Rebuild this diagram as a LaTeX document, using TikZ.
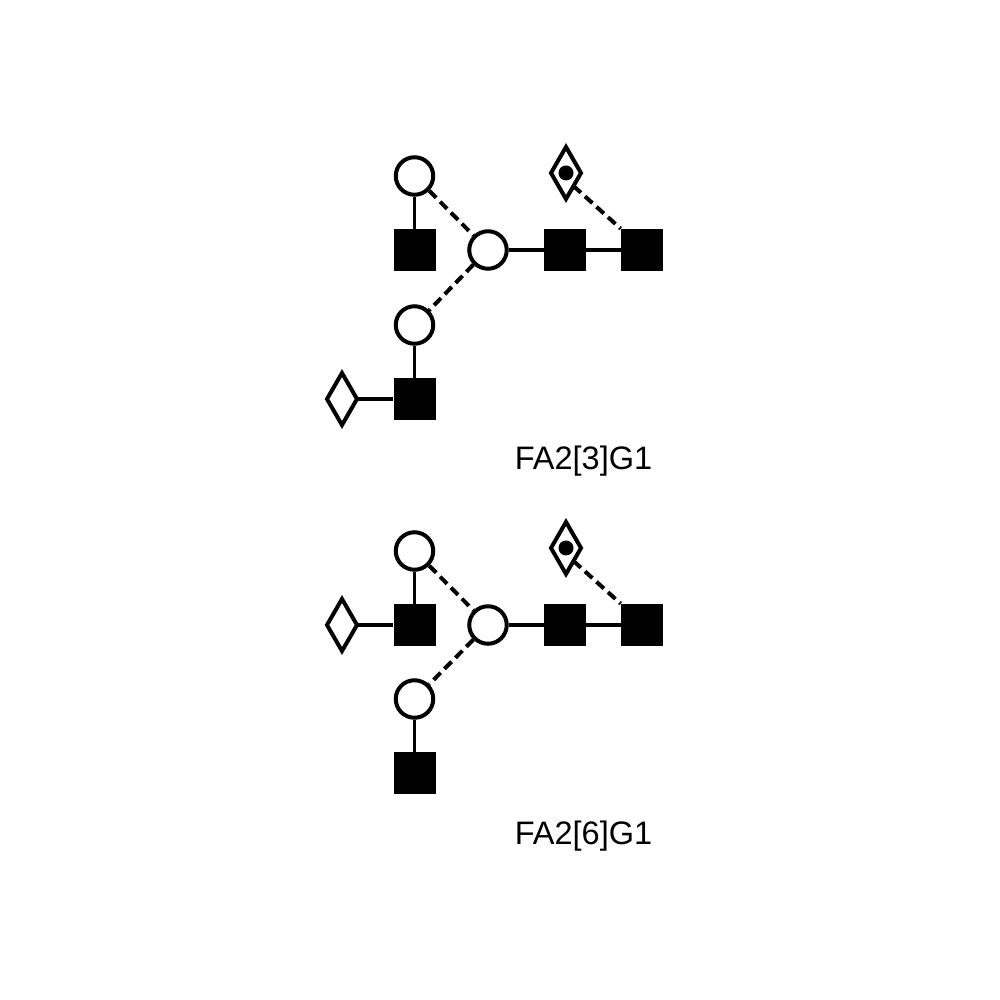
\documentclass[tikz,border=0pt]{standalone}
\usepackage{fontspec}
\setmainfont{Liberation Sans}
\usetikzlibrary{shapes.geometric,positioning}

\tikzset{
  glcnac/.style={draw=none,fill=black,rectangle,minimum size=0.84cm,inner sep=0pt},
  hexose/.style={draw,circle,line width=0.08cm,fill=white,minimum size=0.75cm,inner sep=0pt},
  sugar/.style={draw,diamond,line width=0.08cm,fill=white,minimum width=0.6cm,minimum height=1.04cm,inner sep=0pt,outer sep=0pt},
  spot/.style={fill=black,circle,minimum size=0.3cm,inner sep=0pt},
  solidlink/.style={line width=0.075cm},
  dashlink/.style={line width=0.08cm,dash pattern=on 0.2cm off 0.11cm},
  caption/.style={font=\fontsize{18.5}{22}\selectfont,inner sep=0pt}
}

\begin{document}
\begin{tikzpicture}[on grid]
\useasboundingbox (0,0) rectangle (20,20);
% upper structure
\node[glcnac] (coreb) at (12.84,15) {};
\node[glcnac,left=1.54cm of coreb] (corea) {};
\node[hexose,left=1.54cm of corea] (man) {};
\node[hexose,above left=1.48cm and 1.47cm of man] (gala) {};
\node[glcnac,below=1.48cm of gala] (naga) {};
\node[hexose,below left=1.5cm and 1.47cm of man] (galb) {};
\node[glcnac,below=1.48cm of galb] (nagb) {};
\node[sugar,left=1.45cm of nagb] (fucb) {};
\node[sugar,above left=1.54cm and 1.52cm of coreb] (fuca) {};
\node[spot] (dota) at (fuca.center) {};
\node[caption] (namea) at (11.67,10.78) {FA2[3]G1};
\draw[solidlink] (man) -- (corea);
\draw[solidlink] (corea) -- (coreb);
\draw[solidlink] (gala) -- (naga);
\draw[solidlink] (galb) -- (nagb);
\draw[solidlink] (fucb) -- (nagb);
\draw[dashlink] (gala.south east) -- (man.north west);
\draw[dashlink] (man.south west) -- (galb.north east);
\draw[dashlink] (fuca.south east) -- (coreb.north west);
% lower structure
\node[glcnac] (cored) at (12.84,7.5) {};
\node[glcnac,left=1.54cm of cored] (corec) {};
\node[hexose,left=1.54cm of corec] (manb) {};
\node[hexose,above left=1.48cm and 1.47cm of manb] (galc) {};
\node[glcnac,below=1.48cm of galc] (nagc) {};
\node[sugar,left=1.45cm of nagc] (fucc) {};
\node[hexose,below left=1.48cm and 1.47cm of manb] (gald) {};
\node[glcnac,below=1.48cm of gald] (nagd) {};
\node[sugar,above left=1.54cm and 1.52cm of cored] (fucd) {};
\node[spot] (dotb) at (fucd.center) {};
\node[caption] (nameb) at (11.67,3.28) {FA2[6]G1};
\draw[solidlink] (manb) -- (corec);
\draw[solidlink] (corec) -- (cored);
\draw[solidlink] (galc) -- (nagc);
\draw[solidlink] (gald) -- (nagd);
\draw[solidlink] (fucc) -- (nagc);
\draw[dashlink] (galc.south east) -- (manb.north west);
\draw[dashlink] (manb.south west) -- (gald.north east);
\draw[dashlink] (fucd.south east) -- (cored.north west);
\end{tikzpicture}
\end{document}
